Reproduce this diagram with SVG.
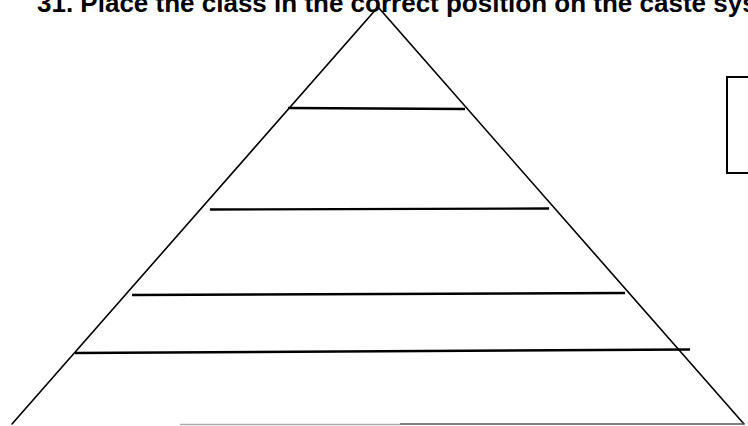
<svg xmlns="http://www.w3.org/2000/svg" width="748" height="426" viewBox="0 0 748 426">
<style>
.side{stroke:#000;stroke-width:1.6;fill:none;stroke-linecap:round}
.tier{stroke:#000;stroke-width:2.4;fill:none}
.title{font-family:"Liberation Sans",Arial,sans-serif;font-weight:bold;font-size:26px;fill:#000}
</style>
<rect width="748" height="426" fill="#fff"/>
<text class="title" x="37" y="12">31. Place the class in the correct position on the caste system</text>
<g id="pyramid">
<polyline class="side" points="12,424 378,7 744,424"/>
<line class="tier" x1="288" y1="108" x2="465" y2="109"/>
<line class="tier" x1="210" y1="209.5" x2="549" y2="208.5"/>
<line class="tier" x1="132" y1="295" x2="625" y2="293"/>
<line class="tier" x1="75" y1="353" x2="690" y2="349.5"/>
<line x1="180" y1="424.5" x2="400" y2="424.5" stroke="#aaa" stroke-width="1.5"/>
<line x1="400" y1="424" x2="744" y2="424" stroke="#555" stroke-width="1.5"/>
</g>
<g id="box">
<rect x="727" y="77" width="40" height="96" fill="none" stroke="#000" stroke-width="2"/>
</g>
</svg>
